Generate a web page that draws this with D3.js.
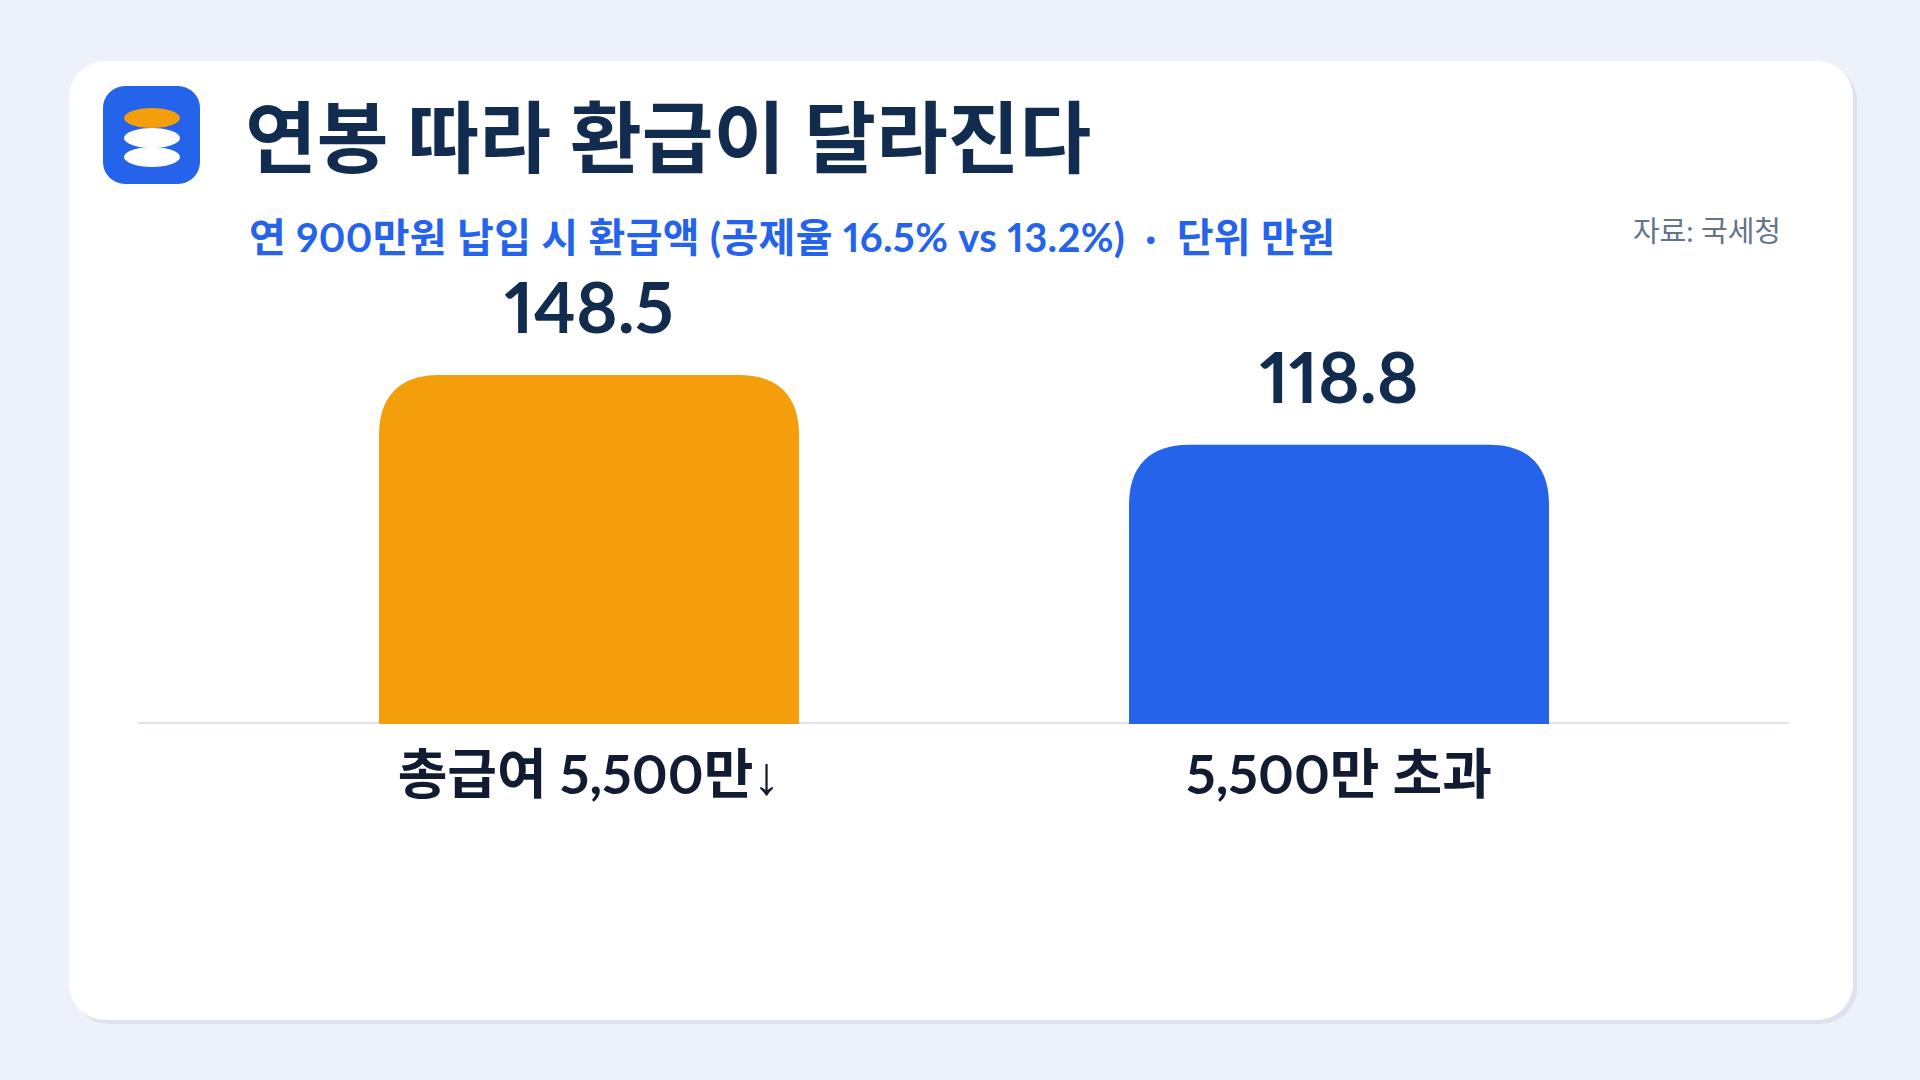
<!DOCTYPE html>
<html><head><meta charset="utf-8">
<script src="https://cdn.jsdelivr.net/npm/d3@7"></script>
<style>html,body{margin:0;padding:0;background:#edf1f9;overflow:hidden}svg{display:block}
text{font-family:"Lato","Noto Sans CJK KR",sans-serif;white-space:pre;font-feature-settings:"pnum"}</style></head>
<body><svg id="c" width="1920" height="1080"></svg>
<script>
const categories=["총급여 5,500만↓","5,500만 초과"];
const values=[148.5,118.8];
const colors=["#f59e0b","#2563eb"];
const titleText="연봉 따라 환급이 달라진다";
const subtitleText="연 900만원 납입 시 환급액 (공제율 16.5% vs 13.2%)  ·  단위 만원";
const sourceText="자료: 국세청";

const svg=d3.select("#c");
svg.append("rect").attr("x",73).attr("y",65).attr("width",1784).attr("height",959).attr("rx",36).attr("fill","#dde2ec");
svg.append("rect").attr("x",69).attr("y",61).attr("width",1784).attr("height",959).attr("rx",36).attr("fill","#fff");

svg.append("rect").attr("x",103).attr("y",86).attr("width",97).attr("height",98).attr("rx",22).attr("fill","#2563eb");
[[118,"#f59e0b"],[138,"#fff"],[157,"#fff"]].forEach(([cy,f])=>svg.append("ellipse").attr("cx",152).attr("cy",cy).attr("rx",28).attr("ry",10).attr("fill",f));

svg.append("text").attr("x",245).attr("y",167).attr("font-size",78).attr("font-weight",700).attr("fill","#122c4f").text(titleText);
svg.append("text").attr("x",249).attr("y",252).attr("font-size",40).attr("font-weight",700).attr("fill","#2563eb").attr("textLength",1086).text(subtitleText);
svg.append("text").attr("x",1781).attr("y",242).attr("text-anchor","end").attr("font-size",29).attr("font-weight",400).attr("fill","#64748b").text(sourceText);

const x=d3.scaleBand().domain(categories).range([214,1714]).paddingInner(0.44).paddingOuter(0.22);
const y=d3.scaleLinear().domain([0,148.5]).range([724,375]);
const r=60;
svg.append("line").attr("x1",138).attr("x2",1789).attr("y1",723).attr("y2",723).attr("stroke","#dde4f0").attr("stroke-width",2);
svg.selectAll("path.bar").data(values).join("path").attr("class","bar")
 .attr("fill",(d,i)=>colors[i])
 .attr("d",(d,i)=>{
   const p=d3.path(),l=x(categories[i]),w=x.bandwidth(),t=y(d),b=y(0);
   p.moveTo(l,b);p.lineTo(l,t+r);p.bezierCurveTo(l,t+r*.35,l+r*.35,t,l+r,t);
   p.lineTo(l+w-r,t);p.bezierCurveTo(l+w-r*.35,t,l+w,t+r*.35,l+w,t+r);p.lineTo(l+w,b);p.closePath();return p.toString();
 });
svg.selectAll("text.val").data(values).join("text").attr("class","val")
 .attr("x",(d,i)=>x(categories[i])+x.bandwidth()/2).attr("y",d=>y(d)-42)
 .attr("text-anchor","middle").attr("font-size",71).attr("font-weight",700).attr("fill","#122c4f").text(d=>d.toFixed(1));
const cats=svg.selectAll("text.cat").data(categories).join("text").attr("class","cat")
 .attr("x",d=>x(d)+x.bandwidth()/2).attr("y",794)
 .attr("text-anchor","middle").attr("font-size",54).attr("font-weight",700).attr("fill","#111c33");
cats.each(function(d){
  const t=d3.select(this);
  d.split(/(↓)/).filter(s=>s).forEach(s=>{
    const sp=t.append("tspan").text(s);
    if(s==="↓") sp.style("font-family","Liberation Sans").attr("font-weight",400);
  });
});
</script></body></html>
